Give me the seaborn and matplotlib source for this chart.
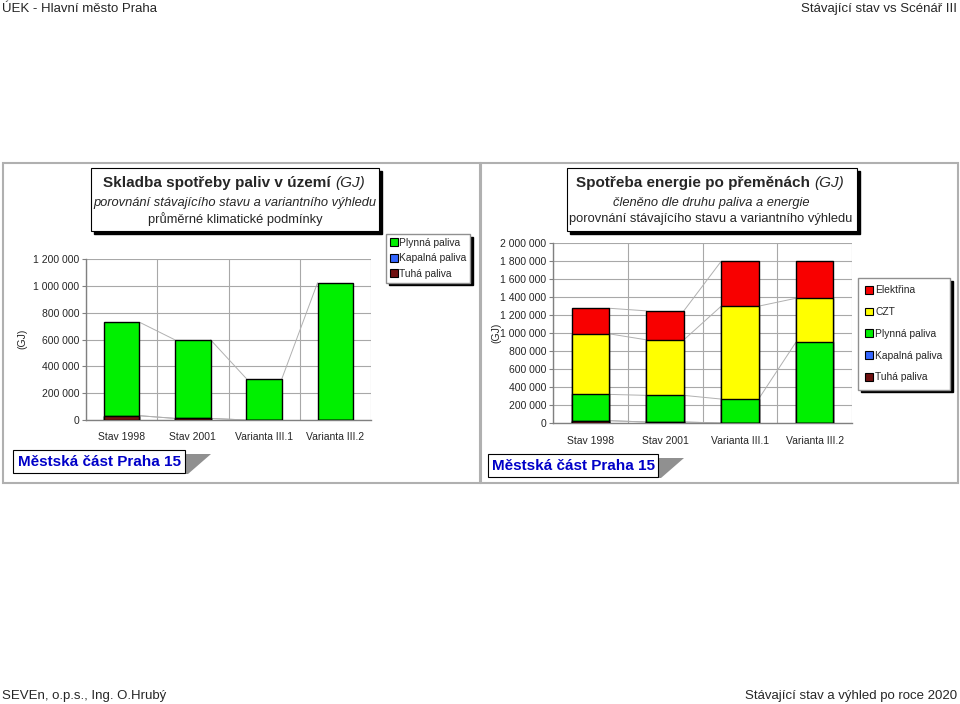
import numpy as np
import matplotlib
matplotlib.use('Agg')
import matplotlib.pyplot as plt
from matplotlib.patches import Rectangle, Polygon
from matplotlib.ticker import FuncFormatter
import seaborn as sns

# data (GJ)
categories = ['Stav 1998', 'Stav 2001', 'Varianta III.1', 'Varianta III.2']

# left chart - fuel consumption
fuel_tuha = [32000, 12000, 0, 0]
fuel_kapalna = [0, 0, 0, 0]
fuel_plyn = [697000, 585000, 309000, 1023000]

# right chart - energy after conversions
en_tuha = [26000, 11000, 0, 0]
en_kapalna = [0, 0, 0, 0]
en_plyn = [292000, 296000, 266000, 898000]
en_czt = [673000, 617000, 1032000, 488000]
en_elektrina = [284000, 322000, 499000, 411000]

C_PLYN = '#00f000'
C_KAP = '#3366ff'
C_TUHA = '#701010'
C_CZT = '#ffff00'
C_EL = '#f80000'

W, H = 960, 704
sns.set_style('white')
plt.rcParams['font.family'] = ['Liberation Sans', 'DejaVu Sans']

fig = plt.figure(figsize=(W / 100, H / 100), dpi=100)
fig.patch.set_facecolor('white')


def rect(x0, y0, x1, y1):
    return [x0 / W, 1 - y1 / H, (x1 - x0) / W, (y1 - y0) / H]


def fx(x):
    return x / W


def fy(y):
    return 1 - y / H


def fig_box(x0, y0, x1, y1, shadow=3, lw=0.8):
    if shadow:
        fig.patches.append(Rectangle((fx(x0 + shadow), fy(y1 + shadow)), (x1 - x0) / W, (y1 - y0) / H,
                                     transform=fig.transFigure, facecolor='black', edgecolor='black', zorder=1))
    fig.patches.append(Rectangle((fx(x0), fy(y1)), (x1 - x0) / W, (y1 - y0) / H,
                                 transform=fig.transFigure, facecolor='white', edgecolor='black', lw=lw, zorder=2))


def stacked(ax, layers, colors, ymax, step):
    # layers bottom -> top, drawn as cumulative bars from the top down
    cum = np.cumsum(np.array(layers, dtype=float), axis=0)
    for i in range(len(layers) - 1, -1, -1):
        sns.barplot(x=categories, y=cum[i], color=colors[i], saturation=1, width=0.5,
                    edgecolor='black', linewidth=1.0, ax=ax, zorder=3)
    # series lines between bars
    for i in range(len(layers)):
        for j in range(len(categories) - 1):
            ax.plot([j + 0.25, j + 0.75], [cum[i][j], cum[i][j + 1]], color='#b0b0b0', lw=0.7, zorder=2)
    ax.set_xlim(-0.5, 3.5)
    ax.set_ylim(0, ymax)
    ax.set_yticks(np.arange(0, ymax + 1, step))
    ax.yaxis.set_major_formatter(FuncFormatter(lambda v, p: '{:,.0f}'.format(v).replace(',', ' ')))
    ax.set_xticks([-0.5, 0.5, 1.5, 2.5, 3.5], minor=True)
    ax.grid(True, axis='y', color='#a8a8a8', lw=0.8)
    ax.grid(True, axis='x', which='minor', color='#a8a8a8', lw=0.8)
    ax.grid(False, axis='x', which='major')
    ax.set_axisbelow(True)
    ax.tick_params(axis='x', which='major', length=0, labelsize=7.5, pad=9)
    ax.tick_params(axis='x', which='minor', length=3, color='#808080')
    ax.tick_params(axis='y', length=3, color='#808080', labelsize=7.5, left=True, pad=2)
    for s in ['top', 'right']:
        ax.spines[s].set_visible(False)
    for s in ['left', 'bottom']:
        ax.spines[s].set_color('#808080')
        ax.spines[s].set_linewidth(1)
    ax.set_xlabel('')
    ax.set_ylabel('')


# header / footer
hdr = dict(fontsize=9.5, family=['Liberation Sans Narrow', 'Liberation Sans', 'DejaVu Sans'])
fig.text(fx(2), fy(9), 'ÚEK - Hlavní město Praha', ha='left', va='center', **hdr)
fig.text(fx(957), fy(9), 'Stávající stav vs Scénář III', ha='right', va='center', **hdr)
fig.text(fx(2), fy(696), 'SEVEn, o.p.s., Ing. O.Hrubý', ha='left', va='center', **hdr)
fig.text(fx(957), fy(696), 'Stávající stav a výhled po roce 2020', ha='right', va='center', **hdr)

# panel borders
for x0, x1 in [(3, 480), (481, 958)]:
    fig.patches.append(Rectangle((fx(x0), fy(483)), (x1 - x0) / W, (483 - 163) / H, transform=fig.transFigure,
                                 facecolor='none', edgecolor='#b0b0b0', lw=1.5, zorder=0))

# ---------- left chart ----------
ax1 = fig.add_axes(rect(86, 259, 371, 420))
stacked(ax1, [fuel_tuha, fuel_kapalna, fuel_plyn], [C_TUHA, C_KAP, C_PLYN], 1200000, 200000)
fig.text(fx(22), fy(339), '(GJ)', rotation=90, ha='center', va='center', fontsize=7.5)

fig_box(91, 168, 379, 231)
fig.text(fx(331), fy(183), 'Skladba spotřeby paliv v území', ha='right', va='center', fontsize=11,
         fontweight='bold', zorder=5)
fig.text(fx(335), fy(183), '(GJ)', ha='left', va='center', fontsize=11, style='italic', zorder=5)
fig.text(fx(235), fy(203), 'porovnání stávajícího stavu a variantního výhledu', ha='center', va='center',
         fontsize=9.3, style='italic', zorder=5)
fig.text(fx(235), fy(219), 'průměrné klimatické podmínky', ha='center', va='center', fontsize=9.3, zorder=5)

h1 = [Rectangle((0, 0), 1, 1, facecolor=c, edgecolor='black', lw=0.8) for c in [C_PLYN, C_KAP, C_TUHA]]
fig.legend(h1, ['Plynná paliva', 'Kapalná paliva', 'Tuhá paliva'], loc='upper left',
           bbox_to_anchor=(fx(386), fy(234)), fontsize=7.4, frameon=True, fancybox=False,
           edgecolor='#909090', framealpha=1, shadow={'color': 'black', 'alpha': 1},
           handlelength=0.8, handleheight=0.8, handletextpad=0.15, labelspacing=0.55,
           borderpad=0.35, borderaxespad=0)

# ---------- right chart ----------
ax2 = fig.add_axes(rect(553, 243, 852, 423))
stacked(ax2, [en_tuha, en_kapalna, en_plyn, en_czt, en_elektrina],
        [C_TUHA, C_KAP, C_PLYN, C_CZT, C_EL], 2000000, 200000)
fig.text(fx(496), fy(333), '(GJ)', rotation=90, ha='center', va='center', fontsize=7.5)

fig_box(567, 168, 857, 231)
fig.text(fx(810), fy(183), 'Spotřeba energie po přeměnách', ha='right', va='center', fontsize=11,
         fontweight='bold', zorder=5)
fig.text(fx(814), fy(183), '(GJ)', ha='left', va='center', fontsize=11, style='italic', zorder=5)
fig.text(fx(711), fy(203), 'členěno dle druhu paliva a energie', ha='center', va='center',
         fontsize=9.3, style='italic', zorder=5)
fig.text(fx(711), fy(219), 'porovnání stávajícího stavu a variantního výhledu', ha='center', va='center',
         fontsize=9.3, zorder=5)

h2 = [Rectangle((0, 0), 1, 1, facecolor=c, edgecolor='black', lw=0.8)
      for c in [C_EL, C_CZT, C_PLYN, C_KAP, C_TUHA]]
fig.legend(h2, ['Elektřina', 'CZT', 'Plynná paliva', 'Kapalná paliva', 'Tuhá paliva'], loc='upper left',
           bbox_to_anchor=(fx(858), fy(278)), fontsize=7.4, frameon=True, fancybox=False,
           edgecolor='#909090', framealpha=1, shadow={'color': 'black', 'alpha': 1},
           handlelength=0.8, handleheight=0.8, handletextpad=0.2, labelspacing=1.15,
           borderpad=0.7, borderaxespad=0)

# district labels
for x0, y0, x1, y1 in [(13, 450, 185, 473), (488, 454, 658, 477)]:
    fig.patches.append(Polygon([(fx(x1), fy(y0 + 4)), (fx(x1 + 26), fy(y0 + 4)), (fx(x1 + 3), fy(y1 + 1)),
                                (fx(x1), fy(y1 + 1))], closed=True, transform=fig.transFigure,
                               facecolor='#909090', edgecolor='none', zorder=1))
    fig.patches.append(Rectangle((fx(x0), fy(y1)), (x1 - x0) / W, (y1 - y0) / H, transform=fig.transFigure,
                                 facecolor='white', edgecolor='black', lw=0.8, zorder=2))
    fig.text(fx((x0 + x1) / 2), fy((y0 + y1) / 2 + 1), 'Městská část Praha 15', ha='center', va='center',
             fontsize=11, fontweight='bold', color='#0000c8', zorder=5)

fig.savefig('out.png', dpi=100, facecolor='white')
